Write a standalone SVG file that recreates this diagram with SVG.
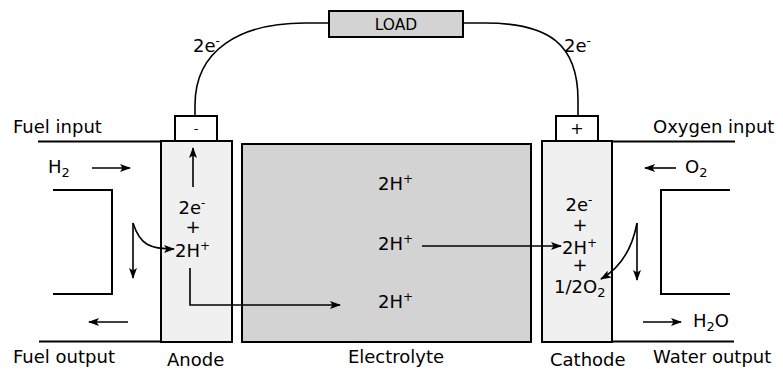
<svg xmlns="http://www.w3.org/2000/svg" width="783" height="369" viewBox="0 0 783 369">
<style>
text{font-family:"DejaVu Sans",Verdana,sans-serif;font-size:18px;fill:#000}
.box{stroke:#000;stroke-width:2}
.ln{fill:none;stroke:#000;stroke-width:2}
.wire{fill:none;stroke:#000;stroke-width:1.6}
.ar{fill:none;stroke:#000;stroke-width:1.6;marker-end:url(#ah)}
.sup{font-size:12px}
.sub{font-size:13px}
.m{text-anchor:middle}
</style>
<defs>
<marker id="ah" markerWidth="11" markerHeight="8" refX="10" refY="4" orient="auto" markerUnits="userSpaceOnUse">
<path d="M0,0 L11,4 L0,8 L2.5,4 Z" fill="#000"/>
</marker>
</defs>
<g id="load">
<rect class="box" x="329" y="11" width="134" height="26" fill="#d3d3d3"/>
<text x="396" y="29.5" class="m" style="font-size:15.5px">LOAD</text>
</g>
<g id="minus-terminal">
<rect class="box" x="175" y="116" width="42" height="25" fill="#fff"/>
<text x="196" y="133" class="m" style="font-size:13px">-</text>
</g>
<g id="plus-terminal">
<rect class="box" x="556" y="116" width="42" height="25" fill="#fff"/>
<text x="577" y="134" class="m" style="font-size:16px">+</text>
</g>
<g id="anode">
<rect class="box" x="161" y="141" width="71" height="201" fill="#f0f0f0"/>
<text x="192" y="214" class="m">2e<tspan class="sup" dy="-7">-</tspan></text>
<text x="193" y="233" class="m">+</text>
<text x="175" y="257">2H<tspan class="sup" dy="-7">+</tspan></text>
</g>
<g id="electrolyte">
<rect class="box" x="242" y="144" width="289" height="198" fill="#d3d3d3"/>
<text x="378" y="190">2H<tspan class="sup" dy="-7">+</tspan></text>
<text x="378" y="250">2H<tspan class="sup" dy="-7">+</tspan></text>
<text x="378" y="308">2H<tspan class="sup" dy="-7">+</tspan></text>
</g>
<g id="cathode">
<rect class="box" x="542" y="141" width="70" height="201" fill="#f0f0f0"/>
<text x="579" y="211" class="m">2e<tspan class="sup" dy="-7">-</tspan></text>
<text x="580" y="231" class="m">+</text>
<text x="562" y="254">2H<tspan class="sup" dy="-7">+</tspan></text>
<text x="580" y="271" class="m">+</text>
<text x="554" y="293">1/2O<tspan class="sub" dy="4">2</tspan></text>
</g>
<g id="fuel-channel">
<path class="ln" d="M38,141.5 H161 M39,341.5 H161 M53,190 H112 V294 H53"/>
</g>
<g id="oxygen-channel">
<path class="ln" d="M612,141.5 H735 M612,341.5 H734 M730,190 H661 V294 H730"/>
</g>
<g id="labels">
<text x="13" y="133">Fuel input</text>
<text x="653" y="133">Oxygen input</text>
<text x="13" y="363">Fuel output</text>
<text x="167" y="366">Anode</text>
<text x="396" y="363" class="m">Electrolyte</text>
<text x="550" y="366">Cathode</text>
<text x="653" y="363">Water output</text>
<text x="48" y="173">H<tspan class="sub" dy="4">2</tspan></text>
<text x="685" y="173">O<tspan class="sub" dy="4">2</tspan></text>
<text x="693" y="327">H<tspan class="sub" dy="4">2</tspan><tspan dy="-4">O</tspan></text>
<text x="193" y="52">2e<tspan class="sup" dy="-7">-</tspan></text>
<text x="564" y="52">2e<tspan class="sup" dy="-7">-</tspan></text>
</g>
<g id="connectors">
<path class="wire" d="M195,116 V105 C195,50 240,23 305,23 H329"/>
<path class="wire" d="M578,116 V100 C578,45 550,23 485,23 H463"/>
<path class="ar" d="M92,168 H130"/>
<path class="ar" d="M128,322 H89"/>
<path class="ar" d="M676,168 H645"/>
<path class="ar" d="M643,322 H681"/>
<path class="ar" d="M133,223 V278"/>
<path class="ar" d="M133,223 C140,245 150,249 174,249"/>
<path class="ar" d="M193,187 V148"/>
<path class="ar" d="M190,268 V305 H340"/>
<path class="ar" d="M422,246 H561"/>
<path class="ar" d="M637,223 V280"/>
<path class="ar" d="M637,223 C632,250 620,268 601,279"/>
</g>
</svg>
